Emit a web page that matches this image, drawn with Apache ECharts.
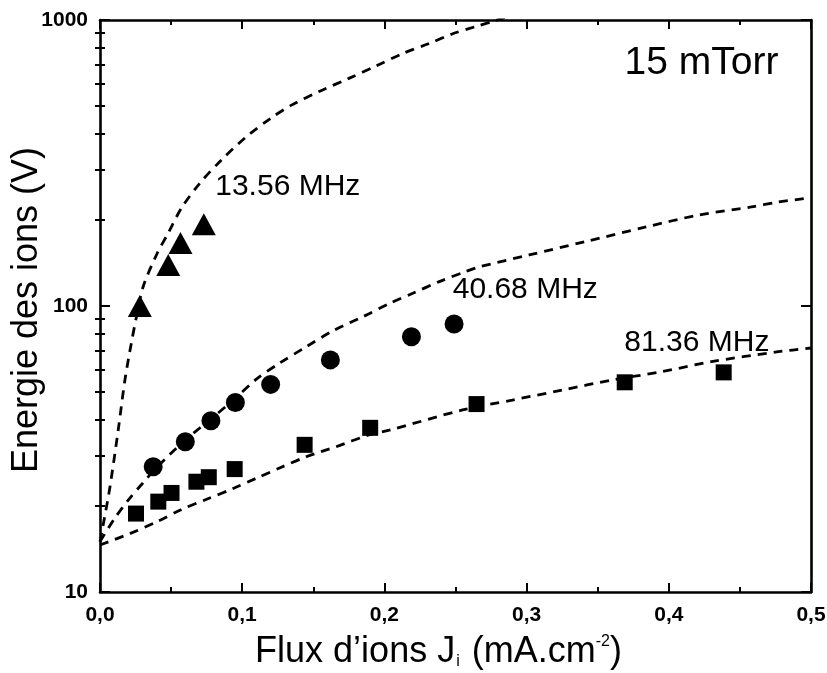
<!DOCTYPE html>
<html>
<head>
<meta charset="utf-8">
<script src="https://cdn.jsdelivr.net/npm/echarts@6/dist/echarts.min.js"></script>
<style>
html,body{margin:0;padding:0;background:#fff;}
#chart{width:827px;height:673px;}
</style>
</head>
<body>
<div id="chart"></div>
<script>
// ---- data ----
const tri1356 = [[0.028, 100], [0.048, 139], [0.0566, 166], [0.073, 193]];
const circ4068 = [[0.0374, 27.4], [0.060, 33.5], [0.078, 39.7], [0.0952, 46], [0.12, 53.2], [0.162, 64.8], [0.219, 78.1], [0.249, 86.5]];
const sq8136 = [[0.0253, 18.8], [0.041, 20.7], [0.0503, 22.2], [0.0678, 24.3], [0.0765, 25.2], [0.0947, 26.9], [0.1439, 32.7], [0.19, 37.5], [0.2648, 45.4], [0.369, 54.1], [0.4386, 58.6]];

const fit1356 = [[0, 15], [0.003, 18], [0.007, 23.3], [0.0128, 36.8], [0.0175, 55], [0.022, 74], [0.0257, 92], [0.0304, 117], [0.04, 152], [0.048, 180], [0.0573, 220], [0.07, 268], [0.0854, 324], [0.103, 391], [0.1205, 455], [0.135, 505], [0.155, 565], [0.175, 625], [0.194, 690], [0.213, 764], [0.2316, 828], [0.248, 895], [0.264, 948], [0.278, 995], [0.29, 1040]];
const fit4068 = [[0, 15], [0.01, 18], [0.02, 21], [0.03, 24], [0.04, 27.3], [0.06, 34], [0.08, 41], [0.096, 48], [0.11, 55.5], [0.126, 63], [0.145, 72], [0.164, 82], [0.185, 91.8], [0.2035, 102], [0.22, 110.8], [0.2386, 121.7], [0.257, 131.8], [0.2667, 137], [0.3018, 150.8], [0.3415, 168], [0.384, 189], [0.421, 208], [0.458, 222], [0.477, 231], [0.5, 239]];
const fit8136 = [[0, 14.6], [0.021, 16.0], [0.04, 17.6], [0.057, 19.4], [0.075, 21.1], [0.0936, 23.0], [0.11, 25], [0.1275, 27.3], [0.145, 29.7], [0.166, 32.2], [0.189, 35.4], [0.2035, 36.8], [0.255, 43.3], [0.29, 46.9], [0.325, 50.8], [0.36, 55.1], [0.395, 58.9], [0.43, 63.9], [0.477, 69.2], [0.5, 71.3]];

const xTicks = [0, 0.1, 0.2, 0.3, 0.4, 0.5];
const yMajorTicks = [10, 100, 1000];
const yMinorTicks = [20, 30, 40, 50, 60, 70, 80, 90, 200, 300, 400, 500, 600, 700, 800, 900];

const annotations = [
  {text: '13.56 MHz', x: 0.0807, y: 262},
  {text: '40.68 MHz', x: 0.2477, y: 114},
  {text: '81.36 MHz', x: 0.3684, y: 74.2},
  {text: '15 mTorr', x: 0.3685, y: 705, big: true}
];

// ---- chart ----
const FONT = 'Liberation Sans, Arial, sans-serif';
const chart = echarts.init(document.getElementById('chart'), null, {renderer: 'canvas'});

const axisLineStyle = {color: '#000', width: 2.6};
const fmtX = v => v.toFixed(1).replace('.', ',');

const option = {
  animation: false,
  backgroundColor: '#fff',
  grid: {left: 100, right: 16, top: 20, bottom: 81, containLabel: false, outerBoundsMode: 'none'},
  xAxis: [
    {
      type: 'value', min: 0, max: 0.5, interval: 0.1, position: 'bottom',
      axisLine: {show: true, onZero: false, lineStyle: axisLineStyle},
      axisTick: {show: true, inside: true, length: 9, lineStyle: {color: '#000', width: 2}},
      minorTick: {show: true, splitNumber: 2, length: 5, lineStyle: {color: '#000', width: 2}},
      splitLine: {show: false}, minorSplitLine: {show: false},
      axisLabel: {show: true, margin: 13, color: '#000', fontFamily: FONT, fontSize: 21, fontWeight: 'bold', formatter: fmtX,
        customValues: xTicks},
      name: '{a|Flux d\u2019ions J}{sub|i}{a| (mA.cm}{sup|-2}{a|)}',
      nameLocation: 'middle', nameGap: 42, nameMoveOverlap: false,
      nameTextStyle: {
        color: '#000', fontFamily: FONT, fontSize: 36, padding: [0, 34, 0, 0],
        rich: {
          a: {fontFamily: FONT, fontSize: 36, color: '#000'},
          sub: {fontFamily: FONT, fontSize: 16, color: '#000', verticalAlign: 'bottom', padding: [0, 2, 0, 1]},
          sup: {fontFamily: FONT, fontSize: 16, color: '#000', verticalAlign: 'top', padding: [0, 0, 0, 0]}
        }
      }
    },
    {
      type: 'value', min: 0, max: 0.5, interval: 0.1, position: 'top',
      axisLine: {show: true, onZero: false, lineStyle: axisLineStyle},
      axisTick: {show: true, inside: true, length: 9, lineStyle: {color: '#000', width: 2}},
      minorTick: {show: true, splitNumber: 2, length: 5, lineStyle: {color: '#000', width: 2}},
      splitLine: {show: false},
      axisLabel: {show: false}
    }
  ],
  yAxis: [
    {
      type: 'log', logBase: 10, min: 10, max: 1000, position: 'left', offset: 0,
      axisLine: {show: true, onZero: false, lineStyle: axisLineStyle},
      axisTick: {show: true, inside: true, length: 10, lineStyle: {color: '#000', width: 2}, customValues: yMajorTicks},
      splitLine: {show: false},
      axisLabel: {show: true, margin: 12, color: '#000', fontFamily: FONT, fontSize: 21, fontWeight: 'bold',
        customValues: yMajorTicks, formatter: v => String(Math.round(v))},
      name: 'Energie des ions (V)', nameLocation: 'middle', nameGap: 55, nameRotate: 90, nameMoveOverlap: false,
      nameTextStyle: {color: '#000', fontFamily: FONT, fontSize: 36, padding: [0, 8, 0, 0]}
    },
    {
      type: 'log', logBase: 10, min: 10, max: 1000, position: 'left', offset: 0,
      axisLine: {show: false},
      axisTick: {show: true, inside: true, length: 5, lineStyle: {color: '#000', width: 2}, customValues: yMinorTicks},
      splitLine: {show: false},
      axisLabel: {show: false}
    },
    {
      type: 'log', logBase: 10, min: 10, max: 1000, position: 'right', offset: 0,
      axisLine: {show: true, onZero: false, lineStyle: axisLineStyle},
      axisTick: {show: true, inside: true, length: 10, lineStyle: {color: '#000', width: 2}, customValues: yMajorTicks},
      splitLine: {show: false},
      axisLabel: {show: false}
    },
    {
      type: 'log', logBase: 10, min: 10, max: 1000, position: 'right', offset: 0,
      axisLine: {show: false},
      axisTick: {show: true, inside: true, length: 5, lineStyle: {color: '#000', width: 2}, customValues: yMinorTicks},
      splitLine: {show: false},
      axisLabel: {show: false}
    }
  ],
  series: [
    {type: 'line', data: fit1356, smooth: 0.3, showSymbol: false, symbol: 'none', clip: true,
      lineStyle: {color: '#000', width: 2.8, type: [9, 7]}},
    {type: 'line', data: fit4068, smooth: 0.3, showSymbol: false, symbol: 'none', clip: true,
      lineStyle: {color: '#000', width: 2.8, type: [9, 7]}},
    {type: 'line', data: fit8136, smooth: 0.3, showSymbol: false, symbol: 'none', clip: true,
      lineStyle: {color: '#000', width: 2.8, type: [9, 7]}},
    {type: 'scatter', data: tri1356, symbol: 'triangle', symbolSize: [24, 22], itemStyle: {color: '#000', opacity: 1}},
    {type: 'scatter', data: circ4068, symbol: 'circle', symbolSize: 19, itemStyle: {color: '#000', opacity: 1}},
    {type: 'scatter', data: sq8136, symbol: 'rect', symbolSize: 16, itemStyle: {color: '#000', opacity: 1}},
    {type: 'scatter', symbol: 'circle', symbolSize: 1, itemStyle: {color: 'rgba(255,255,255,0)', opacity: 1}, silent: true,
      data: annotations.map(a => ({
        value: [a.x, a.y],
        label: {show: true, position: 'right', distance: 0, formatter: a.text, color: '#000', opacity: 1, fontFamily: FONT,
          fontSize: a.big ? 39 : 30}
      }))
    }
  ]
};
chart.setOption(option);
</script>
</body>
</html>
